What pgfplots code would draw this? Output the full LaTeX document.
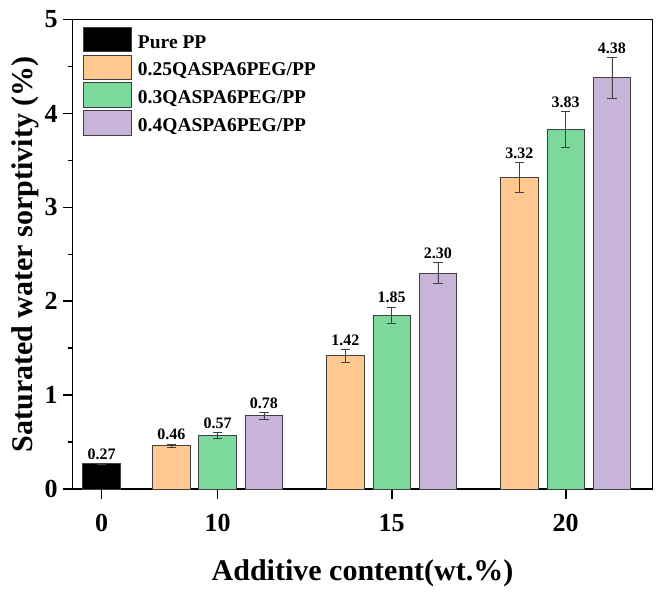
\documentclass[border=0pt]{standalone}
\usepackage{pgfplots}
\pgfplotsset{compat=1.18}
\usepackage{pgfplotstable}
\usepackage{fontspec}
\setmainfont{Liberation Serif}

\definecolor{corg}{HTML}{FFC891}
\definecolor{cgrn}{HTML}{7DD89B}
\definecolor{cpur}{HTML}{C8B3D9}
\definecolor{cedge}{HTML}{404040}

\pgfplotstableread{
x y err lab
0.3333 0.27 0.006 0.27
}\tpure
\pgfplotstableread{
x y err lab
0.734 0.46 0.02 0.46
1.734 1.42 0.071 1.42
2.734 3.32 0.163 3.32
}\tA
\pgfplotstableread{
x y err lab
1 0.57 0.03 0.57
2 1.85 0.089 1.85
3 3.83 0.19 3.83
}\tB
\pgfplotstableread{
x y err lab
1.266 0.78 0.037 0.78
2.266 2.30 0.113 2.30
3.266 4.38 0.218 4.38
}\tC

\pgfplotsset{
  mybar/.style={
    ybar, bar width=0.2155, bar shift=0pt,
    draw=cedge, line width=0.9pt,
    legend image code/.code={
      \path[draw=none, fill=none] (0pt,-6.4pt) rectangle (48pt,21pt);
      \draw[##1] (0pt,-3.3pt) rectangle (48pt,21pt);
    },
    error bars/.cd, y dir=both, y explicit,
      error bar style={line width=0.8pt, black!75},
      error mark options={rotate=90, mark size=4.7pt, line width=0.8pt, black!75},
    /pgfplots/.cd,
    nodes near coords,
    point meta=explicit symbolic,
    visualization depends on={\thisrow{err} \as \myerr},
    every node near coord/.append style={anchor=base, yshift={\myerr*93.88pt+4pt},
      font=\fontsize{16}{19}\selectfont\bfseries, text=black, inner sep=0pt},
  },
}

\begin{document}
\begin{tikzpicture}
\begin{axis}[
  at={(0,0)}, anchor=south west,
  scale only axis, width=579.6pt, height=469.4pt,
  xmin=0.1667, xmax=3.4977, ymin=0, ymax=5,
  axis line style={line width=1.6pt, black},
  xtick={0.3333,1,2,3}, xticklabels={0,10,15,20},
  ytick={0,1,2,3,4,5}, minor ytick={0.5,1.5,2.5,3.5,4.5},
  tick align=outside, xtick pos=bottom, ytick pos=left,
  major tick length=9.5pt, minor tick length=5pt,
  every tick/.style={line width=1.6pt, black},
  ticklabel style={font=\fontsize{26}{31}\selectfont\bfseries},
  every x tick label/.append style={yshift=-12pt},
  every y tick label/.append style={xshift=-2pt},
  /pgf/number format/assume math mode=true,
  xlabel={Additive content(wt.\%)},
  ylabel={Saturated water sorptivity (\%)},
  xlabel style={font=\fontsize{30}{36}\selectfont\bfseries, at={(axis description cs:0.5,-0.1939)}, anchor=base},
  ylabel style={font=\fontsize{30}{36}\selectfont\bfseries, at={(axis description cs:-0.0823,0.5)}, anchor=center},
  legend style={at={(axis description cs:0.01725,0.9849)}, anchor=north west,
    draw=none, fill=none, inner sep=0pt, outer sep=0pt,
    font=\fontsize{19.5}{23}\selectfont\bfseries,
    row sep=0pt, column sep=6.4pt,
    nodes={inner sep=0pt}},
  legend cell align=left,
  legend style={cells={anchor=base west}},
]
\addplot[mybar, fill=black] table[x=x, y=y, y error=err, meta=lab] {\tpure};
\addlegendentry{Pure PP}
\addplot[mybar, fill=corg] table[x=x, y=y, y error=err, meta=lab] {\tA};
\addlegendentry{0.25QASPA6PEG/PP}
\addplot[mybar, fill=cgrn] table[x=x, y=y, y error=err, meta=lab] {\tB};
\addlegendentry{0.3QASPA6PEG/PP}
\addplot[mybar, fill=cpur] table[x=x, y=y, y error=err, meta=lab] {\tC};
\addlegendentry{0.4QASPA6PEG/PP}
\end{axis}
\pgfresetboundingbox
\path (-72.7pt,-109pt) rectangle (591.3pt,489pt);
\end{tikzpicture}
\end{document}
